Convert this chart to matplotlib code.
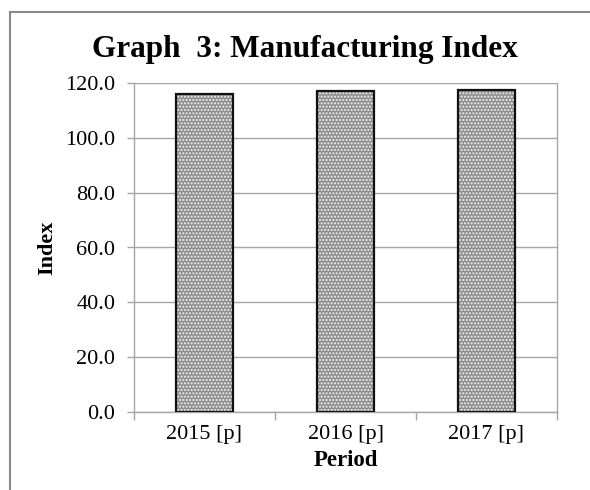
import matplotlib
matplotlib.use("Agg")
import matplotlib.pyplot as plt
from matplotlib.patches import Rectangle
import numpy as np

categories = ["2015 [p]", "2016 [p]", "2017 [p]"]
values = [116.0, 117.2, 117.5]
yticks = [0, 20, 40, 60, 80, 100, 120]

plt.rcParams['font.family'] = ['Liberation Serif', 'DejaVu Serif']
plt.rcParams['hatch.linewidth'] = 1.0

fig = plt.figure(figsize=(5.9, 4.9), dpi=100)
ax = fig.add_axes([134/590, 78/490, 423/590, 329/490])

x = np.arange(len(categories))
ax.bar(x, values, width=0.41, color='#8e8e8e', edgecolor='#f2f2f2',
       hatch='.....', linewidth=0, zorder=3)
ax.bar(x, values, width=0.41, fill=False, edgecolor='#111111',
       linewidth=1.6, zorder=4)

ax.set_xlim(-0.5, len(categories) - 0.5)
ax.set_ylim(0, 120)
ax.set_yticks(yticks)
ax.set_yticklabels([f"{v:.1f}" for v in yticks], fontsize=16)
ax.yaxis.grid(True, color='#a6a6a6', linewidth=1.0, zorder=0)
ax.set_axisbelow(True)

ax.set_xticks(x)
ax.set_xticklabels(categories, fontsize=16)
ax.set_xticks(np.arange(-0.5, len(categories)), minor=True)
ax.tick_params(axis='x', which='major', length=0, pad=9)
ax.tick_params(axis='x', which='minor', length=6, color='#a6a6a6', width=1)
ax.tick_params(axis='y', length=5, color='#a6a6a6', width=1, pad=8.5)

for s in ['left', 'bottom', 'right', 'top']:
    ax.spines[s].set_color('#a6a6a6')
    ax.spines[s].set_linewidth(1.0)
ax.spines['top'].set_visible(False)

ax.set_xlabel("Period", fontsize=16.5, fontweight='bold', labelpad=5)
ax.set_ylabel("Index", fontsize=16, fontweight='bold', labelpad=6)

fig.text(305/590, 1 - 49/490, "Graph  3: Manufacturing Index", fontsize=22.5,
         fontweight='bold', ha='center', va='center')

frame = Rectangle((10/590, -0.1), 1.2, 1.1 - 12/490, transform=fig.transFigure,
                  fill=False, edgecolor='#8a8a8a', linewidth=1.5)
fig.patches.append(frame)

fig.savefig("out.png", dpi=100)
